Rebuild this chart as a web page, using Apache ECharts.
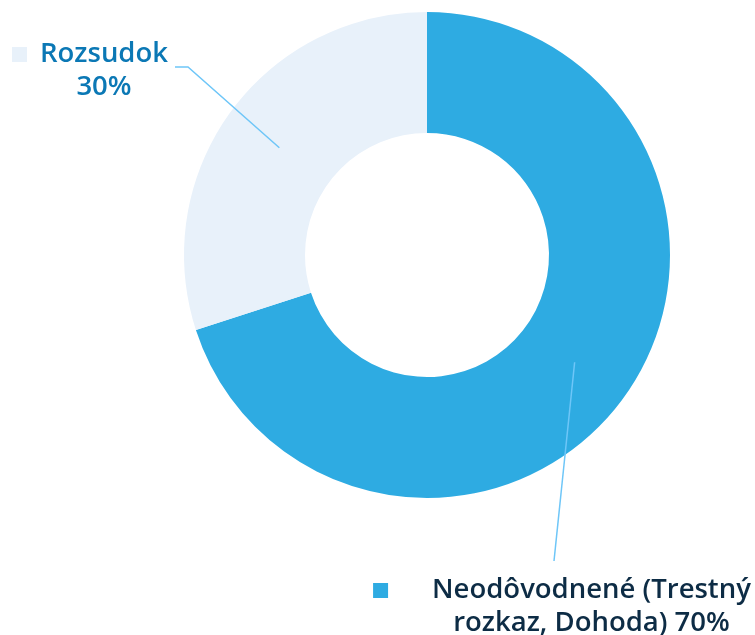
<!DOCTYPE html>
<html>
<head>
<meta charset="utf-8">
<script src="https://cdn.jsdelivr.net/npm/echarts@6/dist/echarts.min.js"></script>
<style>
  html, body { margin: 0; padding: 0; background: #fff; }
  #chart { width: 755px; height: 635px; }
</style>
</head>
<body>
<div id="chart"></div>
<script>
// data
const categories = ['Neodôvodnené (Trestný\nrozkaz, Dohoda)', 'Rozsudok'];
const values = [70, 30];

const sliceColors = ['#2eabe2', '#e8f1fa'];
const textColors = ['#0d2c45', '#0b78b5'];
const lineColor = '#6ec6f8';

const cx = 427, cy = 255, rIn = 122, rOut = 243;
const rLine = (rIn + rOut) / 2;

const chart = echarts.init(document.getElementById('chart'));

function labelText(p) {
    const pct = p.value + '%';
    const txt = p.name.indexOf('\n') >= 0 ? p.name + ' ' + pct : p.name + '\n' + pct;
    const rows = txt.split('\n');
    const i = p.dataIndex;
    return '{m' + i + '|}{g' + i + '|}{t' + i + '|' + rows[0] + '}\n{s' + i + '|}{t' + i + '|' + rows[1] + '}';
}

const rich = {};
[0, 1].forEach(function (i) {
    const gap = i === 0 ? 44 : 13;
    rich['m' + i] = { width: 15, height: 15, backgroundColor: sliceColors[i], align: 'center' };
    rich['g' + i] = { width: gap, align: 'center' };
    rich['s' + i] = { width: 15 + gap, align: 'center' };
    rich['t' + i] = {
        fontFamily: 'Open Sans', fontWeight: 600, fontSize: 27.5, lineHeight: 33,
        color: textColors[i], align: 'center'
    };
});

// label block centre x / top y and line bends
const labelPos = [[562, 574], [90, 38]];
const lineBends = [[[554, 561], [554, 561]], [[188, 67], [175, 67]]];

const pieData = categories.map(function (c, i) {
    return { name: c, value: values[i], itemStyle: { color: sliceColors[i] } };
});

const option = {
    animation: false,
    series: [{
        type: 'pie',
        z: 2,
        center: [cx, cy],
        radius: [rIn, rOut],
        startAngle: 90,
        clockwise: true,
        silent: true,
        data: pieData,
        label: { show: false },
        labelLine: { show: false }
    }, {
        // same slices, transparent, only to carry labels above the ring
        type: 'pie',
        z: 5,
        center: [cx, cy],
        radius: [rIn, rOut],
        startAngle: 90,
        clockwise: true,
        silent: true,
        data: categories.map(function (c, i) {
            return { name: c, value: values[i] };
        }),
        itemStyle: { color: 'rgba(0,0,0,0)' },
        label: {
            show: true,
            position: 'outside',
            overflow: 'none',
            formatter: labelText,
            rich: rich
        },
        labelLine: {
            show: true,
            showAbove: true,
            lineStyle: { color: lineColor, width: 1.5 }
        },
        labelLayout: function (params) {
            const i = params.dataIndex;
            const p = params.labelLinePoints[0];
            const k = rLine / rOut;
            const start = [cx + (p[0] - cx) * k, cy + (p[1] - cy) * k];
            return {
                x: labelPos[i][0],
                y: labelPos[i][1],
                align: 'center',
                verticalAlign: 'top',
                labelLinePoints: [start, lineBends[i][0], lineBends[i][1]]
            };
        }
    }]
};
chart.setOption(option);
</script>
</body>
</html>
